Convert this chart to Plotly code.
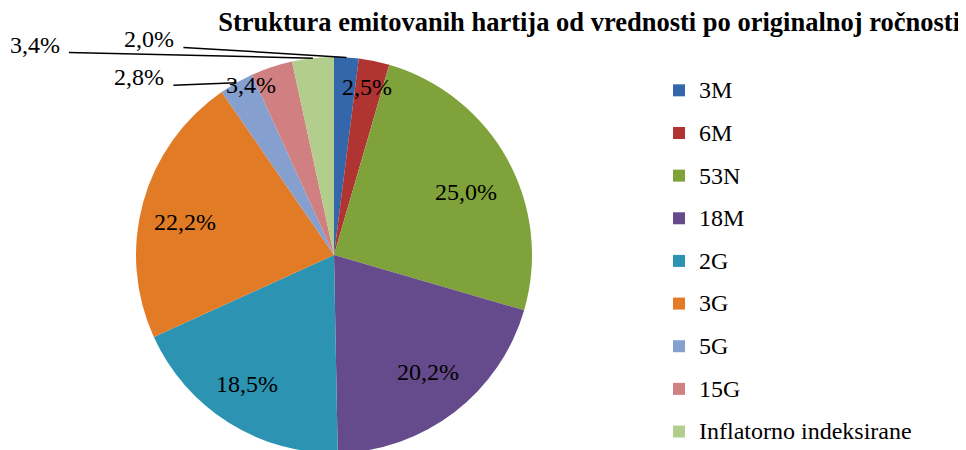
import math
import plotly.graph_objects as go

# ---- data ----
categories = ["3M", "6M", "53N", "18M", "2G", "3G", "5G", "15G", "Inflatorno indeksirane"]
shares = [2.0, 2.5, 25.0, 20.2, 18.5, 22.2, 2.8, 3.4, 3.4]
label_texts = ["2,0%", "2,5%", "25,0%", "20,2%", "18,5%", "22,2%", "2,8%", "3,4%", "3,4%"]
colors = ["#3366AA", "#B03432", "#7FA23A", "#664B8C", "#2C94B2", "#E27B25", "#859FCF", "#D08080", "#B2CD8C"]
title_text = "Struktura emitovanih hartija od vrednosti po originalnoj ročnosti"

# page has an 8px body margin, so the figure is drawn offset by 8px
OFF = 8
W, H = 966 - OFF, 450
FONT = "Liberation Serif, Times New Roman, Times, serif"

# pie geometry (figure pixels)
R = 198.0
CX = 334.0 - OFF
CY = 255.0 - OFF

fig = go.Figure()
fig.add_trace(go.Pie(
    labels=[f'<span style="font-size:24px;baseline-shift:4px">{c}</span>' for c in categories],
    values=shares,
    sort=False,
    direction="clockwise",
    rotation=0,
    textinfo="none",
    hovertext=categories,
    hoverinfo="text+percent",
    marker=dict(colors=colors, line=dict(width=0)),
    domain=dict(x=[(CX - R) / W, (CX + R) / W], y=[1 - (CY + R) / H, 1 - (CY - R) / H]),
    showlegend=True,
))

# label placement per slice: mode, radial fraction, pixel shift (dx, dy)
label_mode = ["out", "in", "in", "in", "in", "in", "out", "in", "out"]
label_rad = [1.0, 0.865, 0.77, 0.77, 0.77, 0.77, 1.0, 0.95, 1.0]
label_shift = [(-197, -18), (-2, 0), (-2, 10), (1, -4), (-6, 0), (-2, 8), (-97, -5.5), (-24, 9), (-278, -13.6)]

def px_to_paper(x, y):
    return x / W, 1 - y / H

total = sum(shares)
cum = 0.0
annotations = []
shapes = []
for i, v in enumerate(shares):
    mid = (cum + v / 2) / total
    cum += v
    th = 2 * math.pi * mid
    d = label_rad[i] * R
    ex = CX + d * math.sin(th)
    ey = CY - d * math.cos(th)
    dx, dy = label_shift[i]
    tx, ty = ex + dx, ey + dy
    px, py = px_to_paper(tx, ty)
    annotations.append(dict(
        x=px, y=py, xref="paper", yref="paper", text=label_texts[i],
        showarrow=False, xanchor="center", yanchor="middle",
        font=dict(family=FONT, size=24, color="#000000"),
    ))
    if label_mode[i] == "out":
        sx, sy = px_to_paper(tx + 34, ty + 8)
        qx, qy = px_to_paper(ex, ey)
        shapes.append(dict(type="line", xref="paper", yref="paper",
                           x0=sx, y0=sy, x1=qx, y1=qy,
                           line=dict(color="#000000", width=1.5)))

fig.update_layout(
    width=W, height=H,
    margin=dict(l=0, r=0, t=0, b=0),
    paper_bgcolor="#FFFFFF",
    plot_bgcolor="#FFFFFF",
    font=dict(family=FONT, color="#000000"),
    title=dict(text=title_text, x=(960 - OFF) / W, xanchor="right", xref="paper",
               y=1 - (22 - OFF) / H, yanchor="middle", yref="container",
               font=dict(family=FONT, size=26.5, color="#000000", weight="bold")),
    legend=dict(x=651 / W, xanchor="left", y=1 - 57 / H, yanchor="top",
                font=dict(family=FONT, size=30.5, color="#000000"),
                bgcolor="rgba(0,0,0,0)"),
    annotations=annotations,
    shapes=shapes,
)

fig.write_html("out.html")
